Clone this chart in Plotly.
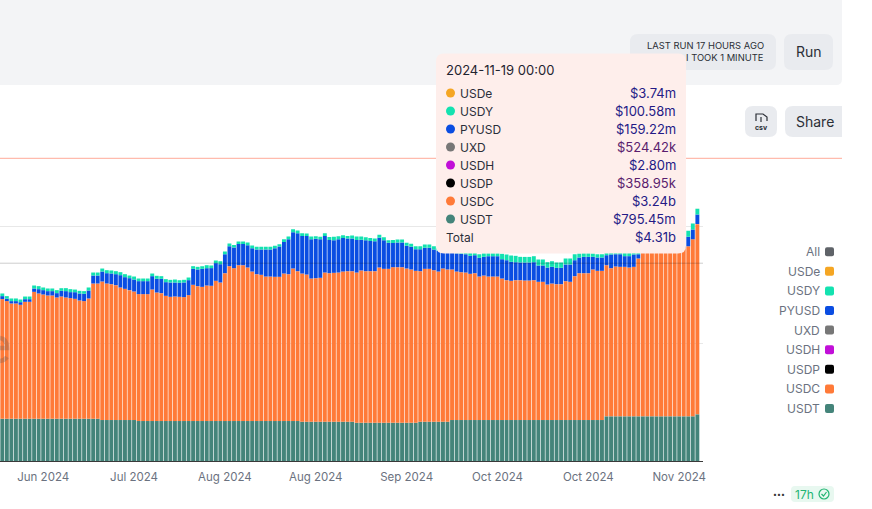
import pandas as pd
import plotly.graph_objects as go

DATES = pd.date_range("2024-06-19", "2024-11-19", freq="D")
TICK_DATES = ["2024-06-28", "2024-07-18", "2024-08-07", "2024-08-27", "2024-09-16", "2024-10-06", "2024-10-26", "2024-11-15"]
TICK_LABELS = ["Jun 2024", "Jul 2024", "Aug 2024", "Aug 2024", "Sep 2024", "Oct 2024", "Oct 2024", "Nov 2024"]

USDT = [0.72]*22 + [0.698]*8 + [0.681]*36 + [0.669]*12 + [0.652]*14 + [0.669]*7 + [0.698]*34 + [0.761]*20 + [0.795]

USDC = [2.038,2.004,1.964,1.964,1.941,1.992,1.992,2.162,2.134,2.117,2.100,2.100,2.066,2.083,2.066,2.055,2.043,2.015,2.004,2.049,
        2.304,2.304,2.360,2.326,2.315,2.298,2.258,2.235,2.213,2.190,2.162,2.162,2.162,2.241,2.190,2.179,2.133,2.116,2.122,2.116,
        2.111,2.145,2.321,2.298,2.286,2.309,2.304,2.389,2.360,2.519,2.638,2.604,2.655,2.655,2.616,2.547,2.502,2.491,2.462,2.462,
        2.457,2.457,2.513,2.502,2.599,2.553,2.525,2.508,2.440,2.446,2.452,2.542,2.531,2.537,2.542,2.559,2.565,2.565,2.559,2.594,
        2.582,2.582,2.582,2.645,2.622,2.622,2.650,2.650,2.650,2.628,2.611,2.588,2.565,2.605,2.605,2.582,2.559,2.611,2.594,2.565,
        2.530,2.519,2.513,2.491,2.502,2.445,2.462,2.445,2.445,2.445,2.411,2.383,2.372,2.383,2.383,2.377,2.377,2.383,2.355,2.355,
        2.309,2.326,2.315,2.315,2.366,2.355,2.451,2.502,2.502,2.502,2.565,2.542,2.542,2.575,2.524,2.553,2.547,2.547,2.536,2.547,
        2.689,2.831,2.831,2.842,2.842,2.831,2.831,2.842,2.853,2.859,2.870,2.899,3.018,3.24]

PYUSD_M = [51,40,40,40,45,45,45,57,74,74,74,74,74,96,108,102,113,119,125,136,
           136,136,170,176,182,187,210,199,204,204,221,221,221,227,233,244,233,244,238,238,
           250,255,272,284,306,295,301,301,312,323,340,352,363,363,380,397,420,431,460,460,
           488,516,539,596,618,647,641,658,670,670,658,624,567,556,567,573,556,556,556,522,
           528,516,511,505,488,443,414,420,420,386,386,369,375,357,357,352,352,323,312,312,
           312,312,312,306,306,318,318,346,346,346,329,340,323,306,301,306,306,306,278,278,
           289,284,278,278,284,295,272,267,278,278,216,227,227,170,233,210,216,182,193,210,
           74,113,113,118,118,120,120,120,125,125,125,159,165,159.22]

USDY_M = [45,45,45,45,45,45,45,51,51,45,45,45,51,45,51,51,45,45,45,51,
          51,51,51,51,51,51,51,51,45,51,45,45,45,45,51,45,51,45,51,45,
          45,45,45,45,45,51,45,45,51,45,45,45,40,40,45,45,45,45,45,45,
          40,40,45,45,51,45,45,40,45,45,40,45,51,57,51,45,45,51,57,57,
          51,51,45,51,51,45,51,51,51,51,51,51,51,57,57,57,51,57,57,57,
          57,57,57,57,57,62,62,51,51,51,91,96,108,108,96,96,96,102,102,102,
          91,96,91,91,102,102,102,68,62,62,57,57,57,57,57,57,57,57,57,57,
          57,85,85,85,90,90,90,95,95,95,100,102,102,100.58]

LAST = [DATES[-1]]
USDP_M = [0.35895]
USDH_M = [2.80]
UXD_M = [0.52442]
USDE_M = [3.74]

LEGEND_NAMES = ["All", "USDe", "USDY", "PYUSD", "UXD", "USDH", "USDP", "USDC", "USDT"]
LEGEND_COLORS = ["#5f6368", "#f5a623", "#13e2b0", "#0a4de2", "#777777", "#c10fd8", "#000000", "#ff7a38", "#44847a"]

TIP_NAMES = ["USDe", "USDY", "PYUSD", "UXD", "USDH", "USDP", "USDC", "USDT"]
TIP_VALUES = ["$3.74m", "$100.58m", "$159.22m", "$524.42k", "$2.80m", "$358.95k", "$3.24b", "$795.45m"]
COL = dict(zip(LEGEND_NAMES, LEGEND_COLORS))
W, H = 872, 509
WX = 869.0
FONT = "Inter"


def fx(x):
    return x / WX


def fy(y):
    return 1 - y / H


def rrect(x0, y0, x1, y1, r=8, corners="tl tr br bl"):
    c = corners.split()
    rt = lambda k: r if k in c else 0
    a, b, d, e = rt("tl"), rt("tr"), rt("br"), rt("bl")
    return (f"M {fx(x0+a)} {fy(y0)} L {fx(x1-b)} {fy(y0)} Q {fx(x1)} {fy(y0)} {fx(x1)} {fy(y0+b)} "
            f"L {fx(x1)} {fy(y1-d)} Q {fx(x1)} {fy(y1)} {fx(x1-d)} {fy(y1)} "
            f"L {fx(x0+e)} {fy(y1)} Q {fx(x0)} {fy(y1)} {fx(x0)} {fy(y1-e)} "
            f"L {fx(x0)} {fy(y0+a)} Q {fx(x0)} {fy(y0)} {fx(x0+a)} {fy(y0)} Z")


fig = go.Figure()
S = lambda vals: [v / 1000 for v in vals]
fig.add_bar(name="USDT", x=DATES, y=USDT, marker_color=COL["USDT"])
fig.add_bar(name="USDC", x=DATES, y=USDC, marker_color=COL["USDC"])
fig.add_bar(name="USDP", x=LAST, y=S(USDP_M), marker_color=COL["USDP"], opacity=0.15)
fig.add_bar(name="USDH", x=LAST, y=S(USDH_M), marker_color=COL["USDH"], opacity=0.15)
fig.add_bar(name="UXD", x=LAST, y=S(UXD_M), marker_color=COL["UXD"], opacity=0.15)
fig.add_bar(name="PYUSD", x=DATES, y=S(PYUSD_M), marker_color=COL["PYUSD"])
fig.add_bar(name="USDY", x=DATES, y=S(USDY_M), marker_color=COL["USDY"])
fig.add_bar(name="USDe", x=LAST, y=S(USDE_M), marker_color=COL["USDe"], opacity=0.15)
fig.update_traces(marker_line_width=0, hoverinfo="skip")

shapes = []
ann = []


def text(x, y, s, size=12, color="#374151", anchor="left", weight=None):
    ann.append(dict(xref="paper", yref="paper", x=fx(x), y=fy(y), text=s, showarrow=False,
                    xanchor=anchor, yanchor="middle", align=anchor,
                    font=dict(family=FONT, size=size, color=color, weight=weight),
                    borderpad=0, borderwidth=0))


def box(x0, y0, x1, y1, fill, r=8, corners="tl tr br bl", layer="above"):
    shapes.append(dict(type="path", xref="paper", yref="paper", path=rrect(x0, y0, x1, y1, r, corners),
                       fillcolor=fill, line_width=0, layer=layer))


def stroke(points, color, width=1.2):
    p = "M " + " L ".join(f"{fx(a)} {fy(b)}" for a, b in points)
    shapes.append(dict(type="path", xref="paper", yref="paper", path=p,
                       line=dict(color=color, width=width), layer="above"))


# page chrome
box(0, 0, 842, 85, "#f3f4f6", 6, "br", "below")
box(630, 34, 776, 70, "#e9ebef")
box(784, 34, 833, 70, "#e9ebef")
box(745, 106, 777, 137, "#e9ebef")
box(785, 106, 842, 137, "#e9ebef", 8, "tl bl")
text(764, 45.7, "LAST RUN 17 HOURS AGO", 9.4, "#2b2f36", "right")
text(764, 57.5, "I TOOK 1 MINUTE", 9.4, "#2b2f36", "right")
text(808.5, 52, "Run", 14, "#2b2f36", "center")
text(815, 122, "Share", 14, "#2b2f36", "center")
text(761, 127, "csv", 7, "#2b2f36", "center", 700)
stroke([(756, 121), (756, 114), (763, 114), (767, 117), (767, 121)], "#2b2f36")
stroke([(761, 117), (761, 122)], "#2b2f36")

# reference lines
shapes.append(dict(type="line", xref="x domain", yref="y", x0=0, x1=1, y0=3.37, y1=3.37,
                   line=dict(color="rgba(0,0,0,0.2)", width=1), layer="above"))
shapes.append(dict(type="line", xref="paper", yref="paper", x0=0, x1=fx(842), y0=fy(158.3), y1=fy(158.3),
                   line=dict(color="#ffab99", width=1), layer="above"))

# faint watermark fragment at the left edge
shapes.append(dict(type="path", xref="paper", yref="paper",
                   path=(f"M {fx(0)} {fy(338)} Q {fx(7)} {fy(339)} {fx(7)} {fy(348)} L {fx(0)} {fy(348)} "
                         f"M {fx(0)} {fy(361)} Q {fx(4)} {fy(361)} {fx(7)} {fy(357)}"),
                   line=dict(color="rgba(90,90,90,0.28)", width=4.5), layer="above"))

# tooltip
box(436, 53.5, 686, 253.5, "#feeeeb", 8)
text(446, 70.5, "2024-11-19 00:00", 13, "#1f2430")
for i, (n, v) in enumerate(zip(TIP_NAMES, TIP_VALUES)):
    y = 93 + 18 * i
    shapes.append(dict(type="circle", xref="paper", yref="paper", x0=fx(446), x1=fx(455), y0=fy(y - 4.5), y1=fy(y + 4.5),
                       fillcolor=COL[n], line_width=0, layer="above"))
    text(460, y, n, 12, "#2b2f3a")
    text(676, y, v, 13, "#5a1d6e" if v.endswith("k") else "#241a86", "right")
text(446, 237, "Total", 12, "#2b2f3a")
text(676, 237, "$4.31b", 13, "#241a86", "right")

# legend
for i, (n, c) in enumerate(zip(LEGEND_NAMES, LEGEND_COLORS)):
    y = 251.7 + 19.6 * i
    text(820, y, n, 12, "#6b7280", "right")
    box(825, y - 4.5, 834, y + 4.5, c, 2)

# status pill
text(779, 494, "•••", 7, "#333333", "center")
box(791, 486, 834, 502, "#e8f8f0", 4)
text(804, 494, "17h", 12, "#22b573", "center")
shapes.append(dict(type="circle", xref="paper", yref="paper", x0=fx(819), x1=fx(829), y0=fy(489), y1=fy(499),
                   line=dict(color="#22b573", width=1.2), layer="above"))
stroke([(821.5, 494), (823.5, 496), (826.5, 492)], "#22b573")

fig.update_layout(
    width=W, height=H, margin=dict(l=0, r=0, t=0, b=0), barmode="stack", bargap=0.14,
    showlegend=False, plot_bgcolor="white", paper_bgcolor="white", shapes=shapes, annotations=ann,
    font=dict(family=FONT),
    xaxis=dict(domain=[0, 703 / WX], range=["2024-06-18 11:51", "2024-11-20 05:45"], type="date",
               tickvals=TICK_DATES, ticktext=TICK_LABELS, tickfont=dict(size=11.5, color="#6b7280", family=FONT),
               showgrid=False, showline=True, linecolor="#3a3a3a", linewidth=1, ticks="outside", ticklen=5,
               tickcolor="rgba(0,0,0,0)", zeroline=False, anchor="y"),
    yaxis=dict(domain=[fy(461), fy(158.3)], range=[0, 5.157], tickvals=[2, 4], showticklabels=False,
               gridcolor="#e8e8e8", gridwidth=1, zeroline=False, showline=False, ticks=""),
)

fig.write_html("out.html", config=dict(displayModeBar=False, responsive=False, staticPlot=True),
               post_script="document.body.style.margin='0';document.documentElement.style.overflow='hidden';"
                           "document.querySelectorAll('.bars path').forEach(function(p){p.style.shapeRendering='geometricPrecision';});")
